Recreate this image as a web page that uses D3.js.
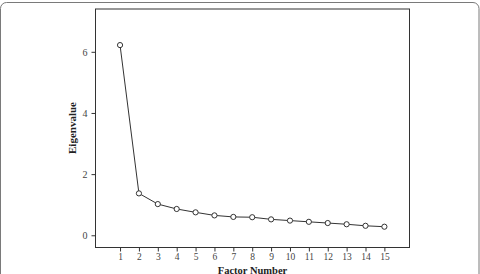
<!DOCTYPE html>
<html lang="en">
  <head>
    <meta charset="UTF-8" />
    <script src="https://d3js.org/d3.v7.min.js"></script>
    <title>Scree plot</title>
    <style>
      body { margin: 0; background: #fff; }
      svg { display: block; font-family: "Liberation Serif", serif; }
    </style>
  </head>
  <body>
    <svg id="chart" width="480" height="274"></svg>
    <script>
      // factor numbers and eigenvalues
      const factors = [1, 2, 3, 4, 5, 6, 7, 8, 9, 10, 11, 12, 13, 14, 15];
      const eigenvalues = [6.22, 1.37, 1.02, 0.86, 0.75, 0.65, 0.6, 0.59, 0.52, 0.48, 0.44, 0.4, 0.36, 0.31, 0.28];
      const yTicks = [0, 2, 4, 6];

      const svg = d3.select("#chart");

      // outer rounded frame
      svg.append("rect")
        .attr("x", 0.5).attr("y", 2.5)
        .attr("width", 478.5).attr("height", 280)
        .attr("rx", 6)
        .attr("fill", "none")
        .attr("stroke", "#7a7a7a")
        .attr("stroke-width", 1);

      const box = { left: 95.5, right: 409.5, top: 9, bottom: 247.5 };

      const x = d3.scaleLinear().domain([-0.3, 16.33]).range([box.left, box.right]);
      const y = d3.scaleLinear().domain([-0.4, 7.4]).range([box.bottom, box.top]);

      const ink = "#333";

      // plot box
      svg.append("rect")
        .attr("x", box.left).attr("y", box.top)
        .attr("width", box.right - box.left).attr("height", box.bottom - box.top)
        .attr("fill", "none").attr("stroke", ink).attr("stroke-width", 1);

      const yAxis = svg.append("g")
        .attr("transform", `translate(${box.left},0)`)
        .call(d3.axisLeft(y).tickValues(yTicks).tickSize(4).tickPadding(4));
      const xAxis = svg.append("g")
        .attr("transform", `translate(0,${box.bottom})`)
        .call(d3.axisBottom(x).tickValues(factors).tickSize(4).tickPadding(2));

      [yAxis, xAxis].forEach(g => {
        g.select(".domain").remove();
        g.selectAll("line").attr("stroke", ink);
        g.selectAll("text")
          .attr("fill", "#444")
          .style("font-family", "Liberation Serif, serif")
          .style("font-size", "10px");
      });
      xAxis.selectAll("text").style("font-size", "9.5px");

      // line + hollow markers
      const pts = factors.map((f, i) => ({ f, v: eigenvalues[i] }));
      svg.append("path")
        .datum(pts)
        .attr("fill", "none")
        .attr("stroke", ink)
        .attr("stroke-width", 1)
        .attr("d", d3.line().x(d => x(d.f)).y(d => y(d.v)));

      svg.selectAll("circle.pt")
        .data(pts)
        .enter()
        .append("circle")
        .attr("class", "pt")
        .attr("cx", d => x(d.f))
        .attr("cy", d => y(d.v))
        .attr("r", 2.6)
        .attr("fill", "#fff")
        .attr("stroke", ink)
        .attr("stroke-width", 1);

      // axis titles
      svg.append("text")
        .attr("x", (box.left + box.right) / 2)
        .attr("y", 273.5)
        .attr("text-anchor", "middle")
        .style("font-weight", "bold")
        .style("font-size", "10.5px")
        .attr("fill", "#222")
        .text("Factor Number");

      svg.append("text")
        .attr("transform", `translate(76,128) rotate(-90)`)
        .attr("text-anchor", "middle")
        .style("font-weight", "bold")
        .style("font-size", "11px")
        .attr("fill", "#222")
        .text("Eigenvalue");
    </script>
  </body>
</html>
